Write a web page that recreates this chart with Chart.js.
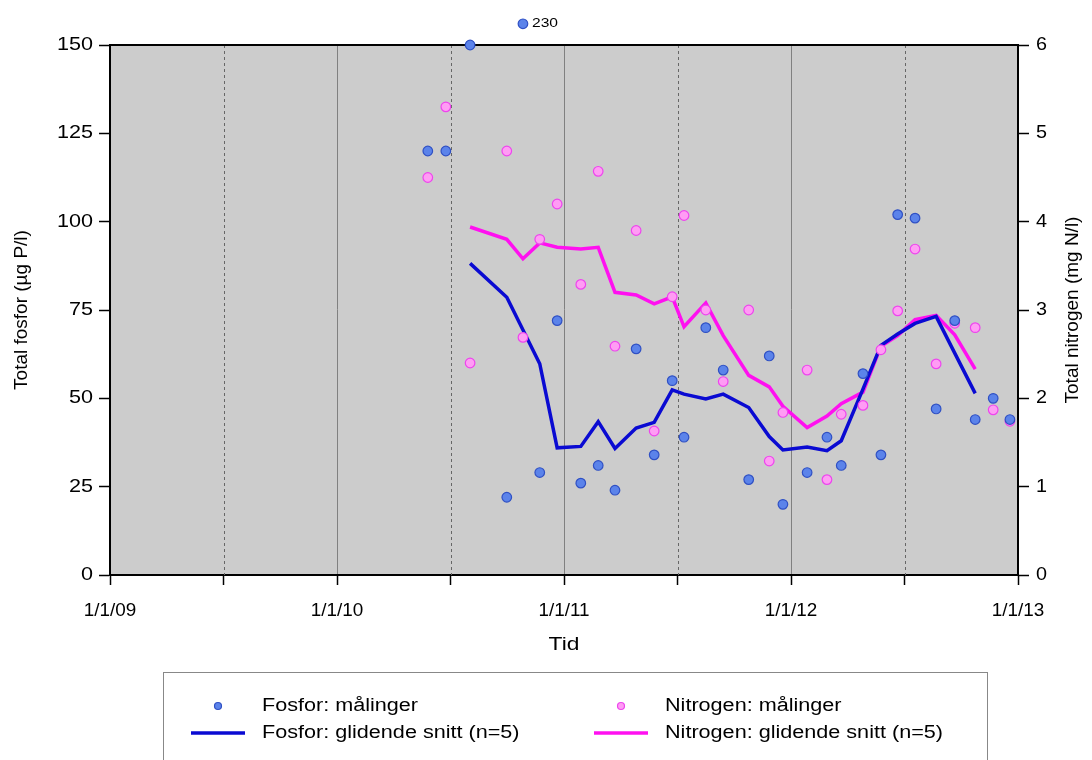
<!DOCTYPE html>
<html>
<head>
<meta charset="utf-8">
<title>Fosfor og nitrogen</title>
<script src="https://cdn.jsdelivr.net/npm/chart.js@4/dist/chart.umd.min.js"></script>
<style>
  html, body { margin: 0; padding: 0; background: #fff; }
  #wrap { width: 1092px; height: 760px; }
</style>
</head>
<body>
<div id="wrap"><canvas id="chart" width="1092" height="760"></canvas></div>
<script>
// prøvedatoer (samme for fosfor og nitrogen)
const datoer = [
    '2010-05-27', '2010-06-25', '2010-08-03', '2010-10-01', '2010-10-27', '2010-11-23', '2010-12-21',
    '2011-01-28', '2011-02-25', '2011-03-24', '2011-04-27', '2011-05-26', '2011-06-24', '2011-07-13',
    '2011-08-17', '2011-09-14', '2011-10-25', '2011-11-27', '2011-12-19',
    '2012-01-27', '2012-02-28', '2012-03-22', '2012-04-26', '2012-05-25', '2012-06-21', '2012-07-19',
    '2012-08-22', '2012-09-21', '2012-10-24', '2012-11-22', '2012-12-19'
];

// total fosfor, µg P/l
const fosfor = [120, 120, 150, 22, 230, 29, 72, 26, 31, 24, 64, 34, 55, 39, 70, 58, 27, 62, 20,
    29, 39, 31, 57, 34, 102, 101, 47, 72, 44, 50, 44];

// total nitrogen, mg N/l
const nitrogen = [4.5, 5.3, 2.4, 4.8, 2.69, 3.8, 4.2, 3.29, 4.57, 2.59, 3.9, 1.63, 3.15, 4.07, 3.0, 2.19,
    3.0, 1.29, 1.84, 2.32, 1.08, 1.82, 1.92, 2.55, 2.99, 3.69, 2.39, 2.85, 2.8, 1.87, 1.74];

// glidende snitt (n=5)
const fosforSnitt = [null, null, 88.2, 78.6, null, 59.8, 36, 36.4, 43.4, 35.8, 41.6, 43.2, 52.4, 51.2,
    49.8, 51.2, 47.4, 39.2, 35.4, 36.2, 35.2, 38, 52.6, 65, 68.2, 71.2, 73.2, 62.8, 51.4, null, null];
const nitrogenSnitt = [null, null, 3.94, 3.8, 3.58, 3.76, 3.71, 3.69, 3.71, 3.2, 3.17, 3.07, 3.15, 2.81,
    3.08, 2.71, 2.26, 2.13, 1.91, 1.67, 1.8, 1.94, 2.07, 2.59, 2.71, 2.89, 2.94, 2.72, 2.33, null, null];

const aarTicks = [2009, 2010, 2011, 2012, 2013];
const fosforMaks = 150;      // verdier over dette vises over rammen
const utenforSkala = 156;    // plassering for slike punkter

function tilAar(s) {
    const d = new Date(s + 'T00:00:00Z');
    const y = d.getUTCFullYear();
    const start = Date.UTC(y, 0, 1);
    const slutt = Date.UTC(y + 1, 0, 1);
    return y + (d.getTime() - start) / (slutt - start);
}

const xs = datoer.map(tilAar);
const punkter = (vals, f) => vals.map((v, i) => ({ x: xs[i], y: v === null ? null : (f ? f(v) : v) }));
const aarLabel = v => aarTicks.includes(v) ? '1/1/' + String(v).slice(2) : '';

const FONT = "'Liberation Sans', Arial, sans-serif";
const STREKK = 1.2;   // originalen er strukket litt på bredden
Chart.defaults.font.family = FONT;
Chart.defaults.font.size = 18;
Chart.defaults.color = '#000';

function tekst(ctx, s, x, y, align, size, sx) {
    ctx.save();
    ctx.font = size + 'px ' + FONT;
    ctx.fillStyle = '#000';
    ctx.textAlign = align;
    ctx.textBaseline = 'middle';
    ctx.translate(x, y);
    ctx.scale(sx || STREKK, 1);
    ctx.fillText(s, 0, 0);
    ctx.restore();
}

function prikk(ctx, x, y, r, fill, stroke) {
    ctx.save();
    ctx.fillStyle = fill;
    ctx.strokeStyle = stroke;
    ctx.lineWidth = 1.2;
    ctx.beginPath();
    ctx.arc(x, y, r, 0, Math.PI * 2);
    ctx.fill();
    ctx.stroke();
    ctx.restore();
}

const rammePlugin = {
    id: 'ramme',
    beforeDraw(chart) {
        const { ctx, chartArea: a } = chart;
        ctx.save();
        ctx.fillStyle = '#cccccc';
        ctx.fillRect(a.left, a.top, a.right - a.left, a.bottom - a.top);
        ctx.restore();
    },
    beforeDatasetsDraw(chart) {
        const { ctx, chartArea: a, scales } = chart;
        ctx.save();
        ctx.strokeStyle = '#666';
        ctx.lineWidth = 1;
        ctx.setLineDash([3, 3]);
        scales.x.ticks.forEach(t => {
            if (Number.isInteger(t.value)) return;
            const px = Math.round(scales.x.getPixelForValue(t.value)) + 0.5;
            ctx.beginPath();
            ctx.moveTo(px, a.top);
            ctx.lineTo(px, a.bottom);
            ctx.stroke();
        });
        ctx.setLineDash([]);
        ctx.strokeStyle = '#000';
        ctx.lineWidth = 2;
        ctx.beginPath();
        ctx.moveTo(a.left, a.top);
        ctx.lineTo(a.right, a.top);
        ctx.stroke();
        ctx.restore();
    },
    afterDatasetsDraw(chart) {
        // punkter utenfor skala, med verdi
        const { ctx } = chart;
        const ds = chart.data.datasets[0];
        const meta = chart.getDatasetMeta(0);
        fosfor.forEach((v, i) => {
            if (v <= fosforMaks) return;
            const el = meta.data[i];
            prikk(ctx, el.x, el.y, ds.pointRadius, ds.pointBackgroundColor, ds.pointBorderColor);
            tekst(ctx, String(v), el.x + 9, el.y, 'left', 13);
        });
    },
    afterDraw(chart) {
        const { ctx, chartArea: a, scales } = chart;

        // tikketekster
        scales.x.ticks.forEach(t => {
            const s = aarLabel(t.value);
            if (s) tekst(ctx, s, scales.x.getPixelForValue(t.value), 611, 'center', 18, 1.05);
        });
        scales.yP.ticks.forEach(t => {
            tekst(ctx, String(t.value), a.left - 17, scales.yP.getPixelForValue(t.value), 'right', 18);
        });
        scales.yN.ticks.forEach(t => {
            tekst(ctx, String(t.value), a.right + 18, scales.yN.getPixelForValue(t.value), 'left', 18, 1.1);
        });
        tekst(ctx, 'Tid', (a.left + a.right) / 2, 645, 'center', 19);

        // høyre aksetittel, lest nedenfra og opp
        ctx.save();
        ctx.font = '19px ' + FONT;
        ctx.fillStyle = '#000';
        ctx.textAlign = 'center';
        ctx.textBaseline = 'middle';
        ctx.translate(1073, (a.top + a.bottom) / 2);
        ctx.rotate(-Math.PI / 2);
        ctx.fillText(chart.options.scales.yN.title.text, 0, 0);
        ctx.restore();

        // tegnforklaring
        const ds = chart.data.datasets;
        ctx.save();
        ctx.strokeStyle = '#888';
        ctx.lineWidth = 1;
        ctx.strokeRect(163.5, 672.5, 824, 100);
        ctx.restore();
        const kolonner = [[0, 2], [1, 3]];
        const kx = [218, 621];
        kolonner.forEach((par, c) => {
            par.forEach((idx, r) => {
                const d = ds[idx];
                const y = 706 + r * 27;
                const cx = kx[c];
                if (d.showLine) {
                    ctx.save();
                    ctx.strokeStyle = d.borderColor;
                    ctx.lineWidth = 3.5;
                    ctx.beginPath();
                    ctx.moveTo(cx - 27, y);
                    ctx.lineTo(cx + 27, y);
                    ctx.stroke();
                    ctx.restore();
                } else {
                    prikk(ctx, cx, y, 3.5, d.pointBackgroundColor, d.pointBorderColor);
                }
                tekst(ctx, d.label, cx + 44, y, 'left', 18);
            });
        });
    }
};

document.addEventListener('DOMContentLoaded', () => {
    const ctx = document.getElementById('chart').getContext('2d');

    new Chart(ctx, {
        type: 'scatter',
        data: {
            datasets: [
                {
                    label: 'Fosfor: målinger',
                    data: punkter(fosfor, v => v > fosforMaks ? utenforSkala : v),
                    yAxisID: 'yP',
                    pointRadius: 4.8,
                    pointBackgroundColor: '#5b83ea',
                    pointBorderColor: '#2f50c4',
                    pointBorderWidth: 1.2,
                    clip: false,
                    order: 1
                },
                {
                    label: 'Nitrogen: målinger',
                    data: punkter(nitrogen),
                    yAxisID: 'yN',
                    pointRadius: 4.8,
                    pointBackgroundColor: '#ff9cf4',
                    pointBorderColor: '#ee44ee',
                    pointBorderWidth: 1.2,
                    clip: false,
                    order: 1
                },
                {
                    label: 'Fosfor: glidende snitt (n=5)',
                    data: punkter(fosforSnitt),
                    yAxisID: 'yP',
                    showLine: true,
                    spanGaps: true,
                    borderColor: '#0a0ad2',
                    borderWidth: 3.5,
                    pointRadius: 0,
                    order: 2
                },
                {
                    label: 'Nitrogen: glidende snitt (n=5)',
                    data: punkter(nitrogenSnitt),
                    yAxisID: 'yN',
                    showLine: true,
                    spanGaps: true,
                    borderColor: '#ff10f0',
                    borderWidth: 3.5,
                    pointRadius: 0,
                    order: 2
                }
            ]
        },
        options: {
            responsive: false,
            animation: false,
            layout: { padding: { top: 45, bottom: 95, left: 0, right: 0 } },
            plugins: {
                legend: { display: false },
                tooltip: { enabled: false }
            },
            scales: {
                x: {
                    type: 'linear',
                    min: aarTicks[0],
                    max: aarTicks[aarTicks.length - 1],
                    afterFit: s => { s.height = 90; },
                    ticks: { stepSize: 0.5, autoSkip: false, maxRotation: 0, display: false, callback: aarLabel },
                    grid: {
                        color: c => (c.tick && Number.isInteger(c.tick.value)) ? '#808080' : 'rgba(0,0,0,0)',
                        tickColor: '#000',
                        tickLength: 10,
                        tickWidth: 1.5
                    },
                    border: { color: '#000', width: 2 },
                    title: { display: false, text: 'Tid' }
                },
                yP: {
                    position: 'left',
                    min: 0,
                    max: 150,
                    afterFit: s => { s.width = 110; },
                    ticks: { stepSize: 25, display: false },
                    grid: { drawOnChartArea: false, tickColor: '#000', tickLength: 11, tickWidth: 1.5 },
                    border: { color: '#000', width: 2 },
                    title: { display: true, text: 'Total fosfor (µg P/l)', font: { size: 19 }, padding: { top: 10 } }
                },
                yN: {
                    position: 'right',
                    min: 0,
                    max: 6,
                    afterFit: s => { s.width = 74; },
                    ticks: { stepSize: 1, display: false },
                    grid: { drawOnChartArea: false, tickColor: '#000', tickLength: 11, tickWidth: 1.5 },
                    border: { color: '#000', width: 2 },
                    title: { display: false, text: 'Total nitrogen (mg N/l)' }
                }
            }
        },
        plugins: [rammePlugin]
    });
});
</script>
</body>
</html>
